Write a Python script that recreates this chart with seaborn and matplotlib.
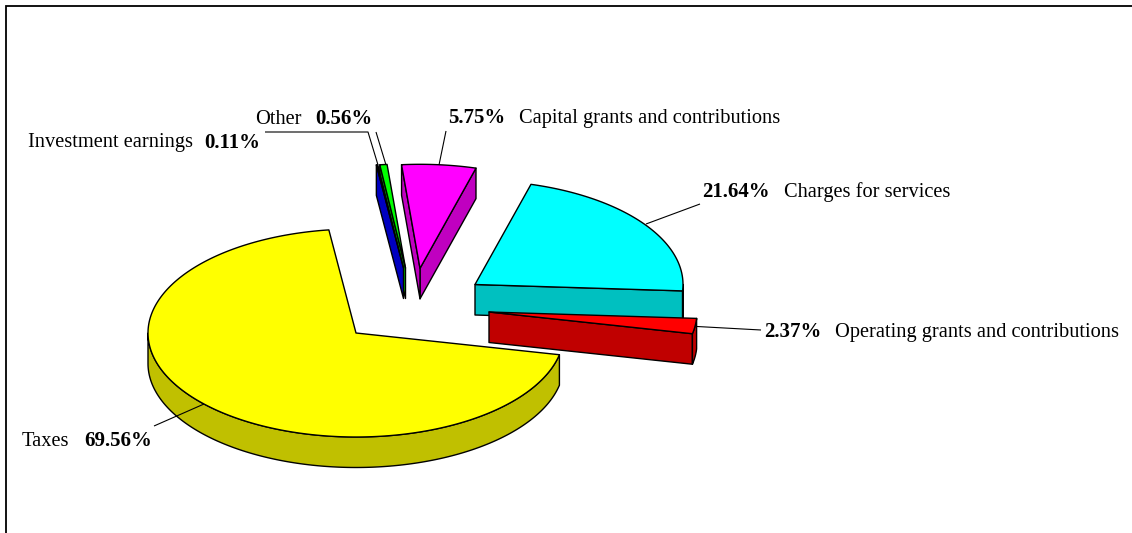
import numpy as np
import matplotlib
matplotlib.use("Agg")
import matplotlib.pyplot as plt
import seaborn as sns

# ---- data ----
categories = ["Investment earnings", "Other", "Capital grants and contributions",
              "Charges for services", "Operating grants and contributions", "Taxes"]
shares = [0.11, 0.56, 5.75, 21.64, 2.37, 69.56]
share_labels = ["0.11%", "0.56%", "5.75%", "21.64%", "2.37%", "69.56%"]

# ---- style / layout ----
top_colors = ["#0000FF", "#00FF00", "#FF00FF", "#00FFFF", "#FF0000", "#FFFF00"]
wall_colors = ["#0000C0", "#00C000", "#C000C0", "#00C0C0", "#C00000", "#C0C000"]
apexes = [(403.5, 268), (405.5, 268), (420, 268.3), (475, 284.5), (489, 312), (356, 333)]
RX, RY, DEPTH = 208, 104, 30.5
START_ANGLE = 97.5     # clockwise sweep start
draw_order = [1, 0, 2, 3, 4, 5]

name_pos = [(28, 147), (255.5, 124), (519, 123), (784, 197), (835, 337), (22, 446)]
pct_pos = [(204.5, 148), (315.5, 124), (448.5, 123), (702.5, 197), (764.5, 337), (84.5, 446)]
leaders = [[(265, 132), (368, 132), (378, 165)],
           [(376, 132), (386, 165)],
           [(446, 131), (439, 165)],
           [(700, 204), (646, 224)],
           [(761, 330), (697, 326.5)],
           [(154, 426), (204, 404)]]

sns.set_theme(style="white")
plt.rcParams["font.family"] = ["Liberation Serif", "DejaVu Serif"]
FONT = 14.7
FONT_BOLD = 15.0

fig, ax = plt.subplots(figsize=(11.32, 5.33), dpi=100)
ax.set_position([0, 0, 1, 1])
ax.set_xlim(0, 1132)
ax.set_ylim(533, 0)
ax.axis("off")
LW = 1.0


def pt(apex, a, dz=0.0):
    a = np.radians(a)
    return apex[0] + RX * np.cos(a), apex[1] - RY * np.sin(a) + dz


def draw_slice(apex, a1, a2, top, wall):
    # a1 < a2, counter-clockwise
    kw = dict(fc=wall, ec="black", lw=LW, joinstyle="round")
    # radial walls
    for a, visible in ((a1, np.cos(np.radians(a1)) > 0), (a2, np.cos(np.radians(a2)) < 0)):
        if visible:
            p = pt(apex, a)
            q = pt(apex, a, DEPTH)
            ax.fill([apex[0], p[0], q[0], apex[0]],
                    [apex[1], p[1], q[1], apex[1] + DEPTH], **kw)
    # outer curved wall: the front half of the rim
    for lo, hi in ((a1, a2), (a1 + 360, a2 + 360)):
        s, e = max(lo, 180), min(hi, 360)
        if e > s:
            t = np.linspace(s, e, 200)
            xs, ys = pt(apex, t)
            ax.fill(np.r_[xs, xs[::-1]], np.r_[ys, ys[::-1] + DEPTH], **kw)
    # top face
    t = np.linspace(a1, a2, 300)
    xs, ys = pt(apex, t)
    ax.fill(np.r_[apex[0], xs], np.r_[apex[1], ys], fc=top, ec="black", lw=LW,
            joinstyle="round")


# sweep clockwise from START_ANGLE, one wedge per share
sweep = np.array(shares) / np.sum(shares) * 360
ends = START_ANGLE - np.cumsum(sweep)
starts = np.r_[START_ANGLE, ends[:-1]]

for i in draw_order:
    draw_slice(apexes[i], ends[i], starts[i], top_colors[i], wall_colors[i])

for path in leaders:
    xs, ys = zip(*path)
    ax.plot(xs, ys, color="black", lw=0.8, solid_capstyle="butt")

for i, name in enumerate(categories):
    ax.text(*name_pos[i], name, fontsize=FONT, color="black", va="baseline", ha="left")
    ax.text(*pct_pos[i], share_labels[i], fontsize=FONT_BOLD, fontweight="bold", color="black",
            va="baseline", ha="left")

# frame, open on the right and at the bottom
ax.plot([6, 6, 1132], [533, 5.5, 5.5], color="black", lw=1.3, solid_joinstyle="miter")

fig.savefig("out.png", dpi=100)
